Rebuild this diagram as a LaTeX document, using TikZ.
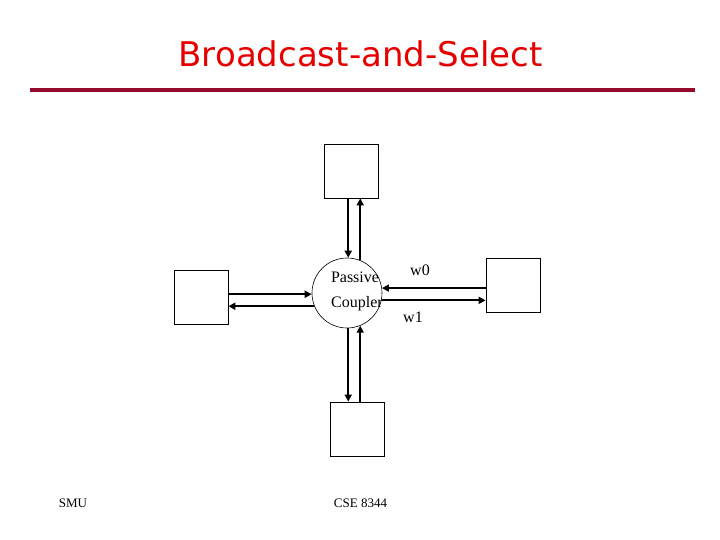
\documentclass[tikz,border=0pt]{standalone}
\usepackage{fontspec}
\setmainfont{Liberation Serif}
\newfontfamily\titlefont{DejaVu Sans}
\usetikzlibrary{arrows.meta}
\definecolor{titlered}{RGB}{230,0,0}
\definecolor{rulered}{RGB}{150,10,45}

\begin{document}
\begin{tikzpicture}[x=1pt,y=-1pt]
\tikzset{
  boxnode/.style={rectangle,draw=black,line width=0.8pt,minimum width=54pt,minimum height=54pt,inner sep=0pt},
  couplernode/.style={circle,draw=black,line width=0.6pt,minimum size=70pt,inner sep=0pt},
  labeltext/.style={inner sep=0pt,font=\fontsize{16}{19}\selectfont},
  foottext/.style={inner sep=0pt,font=\fontsize{13}{16}\selectfont},
  fiber/.style={draw=black,line width=2pt},
  directed/.style={fiber,-{Triangle[length=7pt,width=7pt]}}
}
\useasboundingbox (0,0) rectangle (720,540);
\node[anchor=base,inner sep=0pt,text=titlered,font=\titlefont\fontsize{34}{40}\selectfont] (n_title) at (360.5,67) {Broadcast-and-Select};
\draw[line width=3.8pt,color=rulered] (30,90) -- (695,90);
\node[boxnode] (n_top) at (351.5,171) {};
\node[boxnode] (n_left) at (201,297) {};
\node[boxnode] (n_right) at (513,285) {};
\node[boxnode] (n_bottom) at (357,429) {};
\node[couplernode] (n_cpl) at (347,293) {};
\node[labeltext] (n_passive) at (355,277) {Passive};
\node[labeltext] (n_coupler) at (357,304) {Coupler};
\node[labeltext] (n_w0) at (420,270) {w0};
\node[labeltext] (n_w1) at (413,317) {w1};
\node[foottext] (n_smu) at (73,503) {SMU};
\node[foottext] (n_cse) at (360.5,503) {CSE 8344};
\draw[directed] (n_cpl.88 |- n_top.south) -- (n_cpl.88);
\draw[directed] (n_cpl.68) -- (n_cpl.68 |- n_top.south);
\draw[directed] (n_left.east |- n_cpl.182) -- (n_cpl.182);
\draw[directed] (n_cpl.202) -- (n_cpl.202 -| n_left.east);
\draw[directed] (n_right.west |- n_cpl.8) -- (n_cpl.8);
\draw[directed] (n_cpl.348) -- (n_cpl.348 -| n_right.west);
\draw[directed] (n_cpl.272) -- (n_cpl.272 |- n_bottom.north);
\draw[directed] (n_cpl.292 |- n_bottom.north) -- (n_cpl.292);
\end{tikzpicture}
\end{document}
